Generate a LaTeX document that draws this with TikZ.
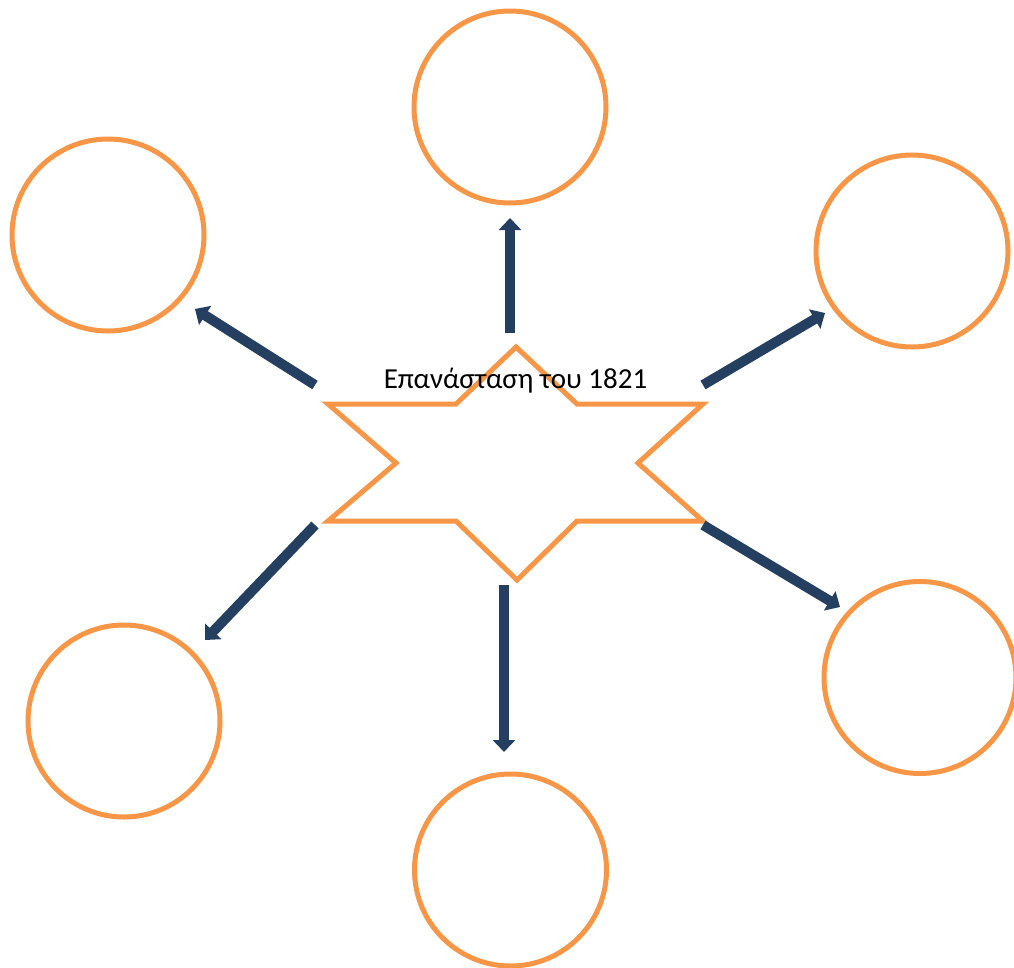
\documentclass[tikz,border=0pt]{standalone}
\usepackage{fontspec}
\setmainfont{Carlito}
\usetikzlibrary{arrows.meta}
\definecolor{orng}{HTML}{F79646}
\definecolor{navy}{HTML}{243F60}
\tikzset{
  ring/.style={draw=orng, line width=5pt, circle, minimum size=192pt, inner sep=0pt},
  bigarrow/.style={draw=navy, line width=10pt, -{Triangle[width=22pt,length=12pt]}},
}
\begin{document}
\begin{tikzpicture}[x=1pt,y=-1pt]
\useasboundingbox (0,0) rectangle (1014,967);
% circles
\node[ring] (ctop) at (510,107) {};
\node[ring] (ctl) at (108,235) {};
\node[ring] (ctr) at (912,251) {};
\node[ring] (cbl) at (124,721) {};
\node[ring] (cbot) at (510.5,870) {};
\node[ring] (cbr) at (920,677.5) {};
% star
\draw[orng, line width=5pt, line join=miter]
  (516,347) -- (577,404) -- (703,404) -- (638,463) -- (703,521) -- (577,521)
  -- (517,580) -- (456,521) -- (328,521) -- (396,463) -- (328,404) -- (456,404) -- cycle;
\node[anchor=base, inner sep=0pt, font=\fontsize{29}{34}\selectfont] (title) at (515.5,388) {Επανάσταση του 1821};
% arrow coordinates
\coordinate (t1) at (510,333); \coordinate (h1) at (510,218);
\coordinate (t2) at (315,385); \coordinate (h2) at (195,309);
\coordinate (t3) at (703,385); \coordinate (h3) at (825,313);
\coordinate (t4) at (315,525); \coordinate (h4) at (205,640);
\coordinate (t5) at (504,585); \coordinate (h5) at (504,752);
\coordinate (t6) at (703,525); \coordinate (h6) at (840,607);
\draw[bigarrow] (t1) -- (h1);
\draw[bigarrow] (t2) -- (h2);
\draw[bigarrow] (t3) -- (h3);
\draw[bigarrow] (t4) -- (h4);
\draw[bigarrow] (t5) -- (h5);
\draw[bigarrow] (t6) -- (h6);
\end{tikzpicture}
\end{document}
